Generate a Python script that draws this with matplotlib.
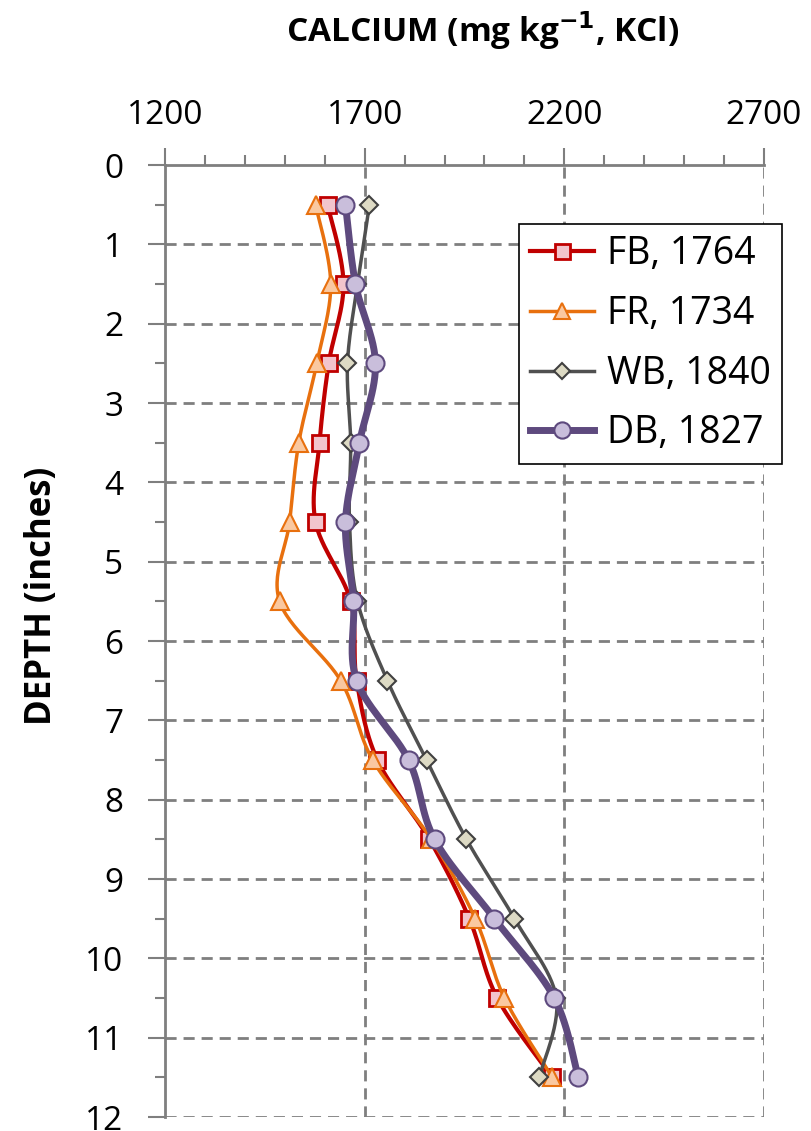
import numpy as np
import matplotlib
matplotlib.use("Agg")
import matplotlib.pyplot as plt
from matplotlib.ticker import MultipleLocator

plt.rcParams['font.family'] = ['Open Sans', 'DejaVu Sans']

depth = [0.5, 1.5, 2.5, 3.5, 4.5, 5.5, 6.5, 7.5, 8.5, 9.5, 10.5, 11.5]
fb = [1607, 1647, 1610, 1587, 1577, 1665, 1680, 1732, 1862, 1962, 2032, 2170]
fr = [1577, 1615, 1580, 1535, 1512, 1487, 1640, 1720, 1867, 1977, 2050, 2170]
wb = [1712, 1682, 1657, 1665, 1662, 1682, 1757, 1855, 1955, 2075, 2180, 2137]
db = [1652, 1677, 1727, 1687, 1652, 1672, 1680, 1810, 1875, 2025, 2175, 2235]
labels = ["FB, 1764", "FR, 1734", "WB, 1840", "DB, 1827"]

W, H = 812, 1131
fig = plt.figure(figsize=(W / 100, H / 100), dpi=100)
ax = fig.add_axes([165 / W, 1 - 1117 / H, (764 - 165) / W, (1117 - 165) / H])

XS, YS = 0.4, 79.3  # approx px per unit, for smoothing in screen space


def smooth(xv, yv, n=30):
    P = np.column_stack([np.array(xv) * XS, np.array(yv) * YS])
    out = []
    m = len(P)
    for i in range(m - 1):
        p0 = P[i - 1] if i > 0 else P[i]
        p1, p2 = P[i], P[i + 1]
        p3 = P[i + 2] if i + 2 < m else P[i + 1]
        c1 = p1 + (p2 - p0) / 6
        c2 = p2 - (p3 - p1) / 6
        t = np.linspace(0, 1, n)[:, None]
        seg = (1 - t) ** 3 * p1 + 3 * (1 - t) ** 2 * t * c1 + 3 * (1 - t) * t ** 2 * c2 + t ** 3 * p2
        out.append(seg if i == 0 else seg[1:])
    S = np.vstack(out)
    return S[:, 0] / XS, S[:, 1] / YS


styles = [
    dict(vals=fb, color='#C00000', lw=3, marker='s', ms=12, mfc='#F2C4CC', mec='#C00000', mew=2),
    dict(vals=fr, color='#E8700E', lw=2.5, marker='^', ms=13, mfc='#FAC8A0', mec='#E8700E', mew=1.5),
    dict(vals=wb, color='#505050', lw=2.5, marker='D', ms=9, mfc='#DDDAC4', mec='#404040', mew=1.5),
    dict(vals=db, color='#5E4A7E', lw=5, marker='o', ms=13, mfc='#C9BEDB', mec='#5E4A7E', mew=1.5),
]

handles = []
for i, st in enumerate(styles):
    sx, sy = smooth(st['vals'], depth)
    ax.plot(sx, sy, color=st['color'], lw=st['lw'], zorder=3 + i, solid_capstyle='round')
    ax.plot(st['vals'], depth, ls='none', marker=st['marker'], ms=st['ms'],
            mfc=st['mfc'], mec=st['mec'], mew=st['mew'], zorder=3 + i)
    h, = ax.plot([], [], color=st['color'], lw=st['lw'], marker=st['marker'], ms=st['ms'] * 0.9,
                 mfc=st['mfc'], mec=st['mec'], mew=st['mew'])
    handles.append(h)

ax.set_xlim(1200, 2700)
ax.set_ylim(12, 0)
ax.xaxis.tick_top()
ax.set_xticks([1200, 1700, 2200, 2700])
ax.xaxis.set_minor_locator(MultipleLocator(100))
ax.set_yticks(range(0, 13))
ax.yaxis.set_minor_locator(MultipleLocator(0.5))

gc = '#7F7F7F'
ax.tick_params(axis='x', which='major', direction='out', length=12, width=1.5, color=gc,
               labelsize=24, pad=12, labelcolor='black')
ax.tick_params(axis='x', which='minor', direction='out', length=7, width=1.5, color=gc)
ax.tick_params(axis='y', which='major', direction='out', length=12, width=1.5, color=gc,
               labelsize=24, pad=18, labelcolor='black')
ax.tick_params(axis='y', which='minor', direction='out', length=7, width=1.5, color=gc)

for s in ['bottom', 'right']:
    ax.spines[s].set_visible(False)
for s in ['top', 'left']:
    ax.spines[s].set_color(gc)
    ax.spines[s].set_linewidth(2)

for x in [1700, 2200, 2700]:
    ax.axvline(x, color=gc, lw=2, ls=(0, (4, 2.5)), zorder=1)
for y in range(1, 13):
    ax.axhline(y, color=gc, lw=2, ls=(0, (4, 2.5)), zorder=1)

leg = ax.legend(handles, labels, loc='upper left',
                bbox_to_anchor=((519 - 165) / (764 - 165), 1 - (224 - 165) / (1117 - 165)),
                fontsize=27, frameon=True, fancybox=False, edgecolor='black', framealpha=1,
                handlelength=1.7, handletextpad=0.35, borderpad=0.3, labelspacing=0.58,
                borderaxespad=0)
leg.get_frame().set_linewidth(1.2)
leg.set_zorder(10)

fig.text(483 / W, 1 - 31 / H, r'CALCIUM (mg kg$^{\mathbf{-1}}$, KCl)', ha='center', va='center',
         fontsize=24, fontweight='bold')
fig.text(42 / W, 1 - 596 / H, 'DEPTH (inches)', ha='center', va='center', rotation=90,
         fontsize=25, fontweight='bold')

fig.savefig('out.png', dpi=100)
